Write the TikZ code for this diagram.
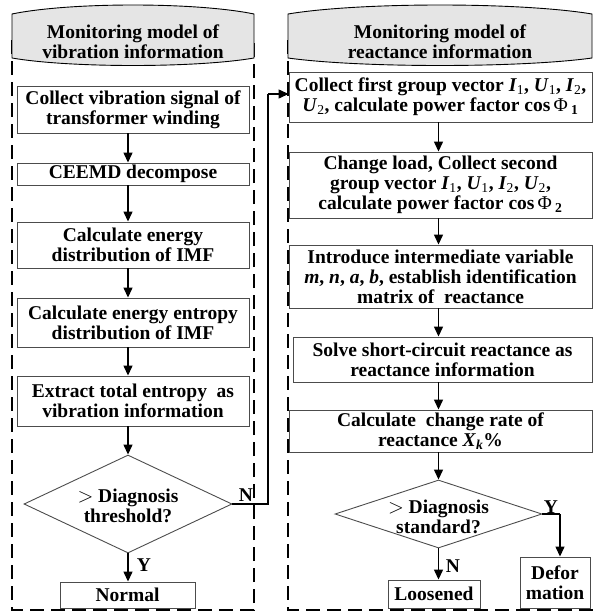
\documentclass[tikz,border=0pt]{standalone}
\usepackage{fontspec}
\setmainfont{Liberation Serif}
\usetikzlibrary{shapes.geometric,arrows.meta}
\newcommand\fs{\fontsize{19.5}{20}\selectfont\bfseries}
\newcommand\bi[1]{\textbf{\textit{#1}}}
\newcommand\sub[1]{\textsubscript{\mdseries #1}}
\begin{document}
\begin{tikzpicture}[x=1pt,y=-1pt,
  box/.style={draw=black!70,line width=0.9pt,fill=white,inner sep=0pt,align=center,font=\fs},
  dia/.style={diamond,draw=black!70,line width=0.9pt,inner sep=0pt},
  txt/.style={inner sep=0pt,align=center,font=\fs},
  lbl/.style={inner sep=0pt,font=\fs},
  arr/.style={line width=1.3pt,-{Triangle[length=10pt,width=9pt]}},
  link/.style={line width=1.3pt},
  panel/.style={line width=1.8pt,dash pattern=on 14pt off 7pt},
  hdr/.style={draw=black,line width=0.9pt,fill=black!10}]
\useasboundingbox (0,0) rectangle (593,613);
% panels
\draw[panel] (12,40) -- (12,610) -- (254,610) -- (254,40);
\draw[panel] (288,40) -- (288,610) -- (596,610) -- (596,40);
% headers
\draw[hdr] (12,14) .. controls (70,2) and (196,2) .. (254,14) -- (254,58)
  .. controls (196,68) and (70,68) .. (12,58) -- cycle;
\draw[hdr] (288,14) .. controls (360,2) and (520,2) .. (592,14) -- (592,58)
  .. controls (520,68) and (360,68) .. (288,58) -- cycle;
\node[txt] (HL) at (133,42) {Monitoring model of\\vibration information};
\node[txt] (HR) at (440,42) {Monitoring model of\\reactance information};
% left column
\node[box,minimum width=232,minimum height=47] (L1) at (133,109.5) {Collect vibration signal of\\transformer winding};
\node[box,minimum width=232,minimum height=22] (L2) at (133,174) {CEEMD decompose};
\node[box,minimum width=232,minimum height=46] (L3) at (133,245) {Calculate energy\\distribution of IMF};
\node[box,minimum width=232,minimum height=49] (L4) at (133,322.5) {Calculate energy entropy\\distribution of IMF};
\node[box,minimum width=232,minimum height=50] (L5) at (133,401) {Extract total entropy\ \ as\\vibration information};
\node[dia,minimum width=208,minimum height=98] (D1) at (128,504) {};
\node[txt] (D1t) at (128,506) {$>$ Diagnosis\\threshold?};
\node[box,minimum width=135,minimum height=26] (NO) at (127.5,595) {Normal};
\foreach \a/\b in {L1/L2,L2/L3,L3/L4,L4/L5,L5/D1,D1/NO}
  \draw[arr] (\a.south -| D1.north) -- (\b.north -| D1.north);
\node[lbl] (Y1) at (144,565) {Y};
\node[lbl] (N1) at (246,495) {N};
% right column
\node[box,minimum width=303,minimum height=50] (R1) at (440.5,97) {Collect first group vector \bi{I}\sub{1}, \bi{U}\sub{1}, \bi{I}\sub{2},\\\bi{U}\sub{2}, calculate power factor cos\,{\mdseries Φ}\,\textsubscript{1}};
\node[box,minimum width=303,minimum height=66] (R2) at (440.5,185) {Change load, Collect second\\group vector \bi{I}\sub{1}, \bi{U}\sub{1}, \bi{I}\sub{2}, \bi{U}\sub{2},\\calculate power factor cos\,{\mdseries Φ}\,\textsubscript{2}};
\node[box,minimum width=303,minimum height=63] (R3) at (440.5,276.5) {Introduce intermediate variable\\\bi{m}, \bi{n}, \bi{a}, \bi{b}, establish identification\\matrix of\ \ reactance};
\node[box,minimum width=299,minimum height=45] (R4) at (442.5,359.5) {Solve short-circuit reactance as\\reactance information};
\node[box,minimum width=303,minimum height=42] (R5) at (440.5,431) {Calculate\ \ change rate of\\reactance \bi{X}\textsubscript{\bi{k}}\%};
\node[dia,minimum width=207,minimum height=68] (D2) at (438.5,514) {};
\node[txt] (D2t) at (438.5,517) {$>$ Diagnosis\\standard?};
\node[box,minimum width=92,minimum height=28] (LO) at (434,594) {Loosened};
\node[box,minimum width=70,minimum height=51] (DE) at (555,582.5) {Defor\\mation};
\foreach \a/\b in {R1/R2,R2/R3,R3/R4,R4/R5,R5/D2,D2/LO}
  \draw[arr] (\a.south -| D2.north) -- (\b.north -| D2.north);
\node[lbl] (Y2) at (551,507) {Y};
\node[lbl] (N2) at (453,566) {N};
% cross connectors
\coordinate (nup) at (268,94);
\draw[link] (D1.east) -| (nup);
\draw[arr] (nup) -- (nup -| R1.west);
\coordinate (yr) at (560,514);
\draw[link] (D2.east) -- (yr);
\draw[arr] (yr) -- (yr |- DE.north);
\end{tikzpicture}
\end{document}
